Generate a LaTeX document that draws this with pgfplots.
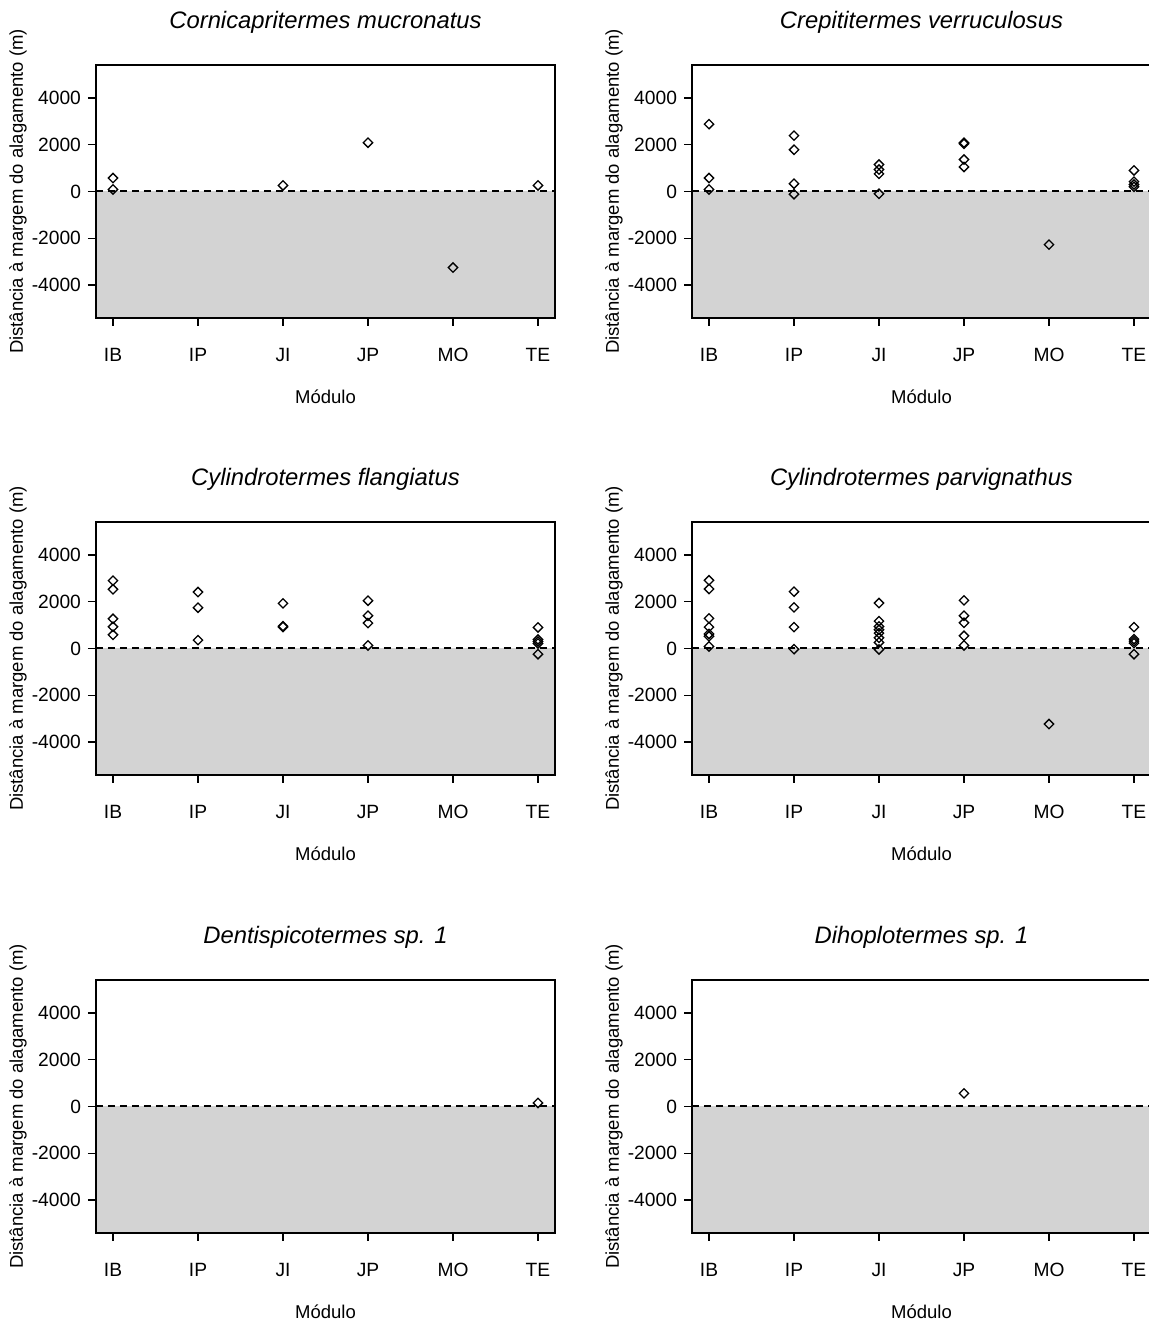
\documentclass[border=0pt]{standalone}
\usepackage{pgfplots}
\pgfplotsset{compat=1.18}
\usepackage{fontspec}
\setmainfont{Liberation Sans}
\definecolor{shade}{RGB}{211,211,211}
\newcommand{\lblfont}{\fontsize{9.25}{11}\selectfont}
\newcommand{\tckfont}{\fontsize{9.6}{11}\selectfont}
\newcommand{\ttlfont}{\fontsize{11.9}{14}\selectfont\itshape}
\pgfplotsset{
  panel/.style={
    scale only axis, width=229.5pt, height=126.5pt,
    anchor=south west,
    xmin=-0.2, xmax=5.2, ymin=-5408, ymax=5408,
    xtick={0,1,2,3,4,5}, xticklabels={IB,IP,JI,JP,MO,TE},
    ytick={-4000,-2000,0,2000,4000}, yticklabels={-4000,-2000,0,2000,4000},
    tick align=outside, major tick length=4pt,
    xtick pos=bottom, ytick pos=left,
    axis on top,
    axis line style={line width=0.75pt, black},
    every tick/.style={black, line width=0.75pt},
    tick label style={font=\tckfont},
    xticklabel style={yshift=-7.5pt},
    xlabel={Módulo}, ylabel={Distância à margem do alagamento (m)},
    label style={font=\lblfont},
    xlabel style={at={(axis description cs:0.5,-0.312)}, anchor=center},
    ylabel style={at={(axis description cs:-0.170,0.5)}, anchor=center},
    title style={at={(axis description cs:0.5,1.12)}, anchor=center, font=\ttlfont},
  },
  pts/.style={only marks, mark=square, mark size=1.65pt,
    mark options={rotate=45, fill=white, draw=black, line width=0.65pt, solid}},
}
\newcommand{\zone}{%
  \addplot[draw=none, fill=shade, forget plot] coordinates {(-0.2,-5408) (5.2,-5408)} \closedcycle;
  \addplot[black, line width=1pt, dash pattern=on 3.6pt off 2.4pt, forget plot] coordinates {(-0.2,0) (5.2,0)};
}
\begin{document}
\begin{tikzpicture}
\useasboundingbox (0,0) rectangle (574.5pt,661pt);
\clip (0,0) rectangle (574.5pt,661pt);
% Row 1
\begin{axis}[panel, at={(48pt,502pt)}, title={Cornicapritermes mucronatus}]
\zone
\addplot[pts] table[row sep=\\] {x y\\
0 576\\ 0 86\\ 2 259\\ 3 2086\\ 4 -3252\\ 5 259\\};
\end{axis}
\begin{axis}[panel, at={(346pt,502pt)}, title={Crepititermes verruculosus}]
\zone
\addplot[pts] table[row sep=\\] {x y\\
0 2878\\ 0 576\\ 0 86\\
1 2388\\ 1 1784\\ 1 331\\ 1 -115\\
2 1153\\ 2 938\\ 2 753\\ 2 -100\\
3 2086\\ 3 2040\\ 3 1367\\ 3 1050\\
4 -2273\\
5 900\\ 5 420\\ 5 300\\ 5 200\\};
\end{axis}
% Row 2
\begin{axis}[panel, at={(48pt,273.5pt)}, title={Cylindrotermes flangiatus}]
\zone
\addplot[pts] table[row sep=\\] {x y\\
0 2900\\ 0 2529\\ 0 1271\\ 0 929\\ 0 586\\
1 2414\\ 1 1743\\ 1 357\\
2 1929\\ 2 957\\ 2 920\\
3 2043\\ 3 1400\\ 3 1086\\ 3 129\\
5 900\\ 5 386\\ 5 300\\ 5 214\\ 5 -243\\};
\end{axis}
\begin{axis}[panel, at={(346pt,273.5pt)}, title={Cylindrotermes parvignathus}]
\zone
\addplot[pts] table[row sep=\\] {x y\\
0 2914\\ 0 2543\\ 0 1286\\ 0 914\\ 0 620\\ 0 520\\ 0 86\\
1 2429\\ 1 1757\\ 1 914\\ 1 -29\\
2 1943\\ 2 1171\\ 2 943\\ 2 800\\ 2 657\\ 2 457\\ 2 257\\ 2 -43\\
3 2057\\ 3 1400\\ 3 1100\\ 3 543\\ 3 129\\
4 -3229\\
5 914\\ 5 400\\ 5 314\\ 5 229\\ 5 -243\\};
\end{axis}
% Row 3
\begin{axis}[panel, at={(48pt,44.5pt)}, title={Dentispicotermes sp. 1}]
\zone
\addplot[pts] table[row sep=\\] {x y\\
5 150\\};
\end{axis}
\begin{axis}[panel, at={(346pt,44.5pt)}, title={Dihoplotermes sp. 1}]
\zone
\addplot[pts] table[row sep=\\] {x y\\
3 560\\};
\end{axis}
\end{tikzpicture}
\end{document}
